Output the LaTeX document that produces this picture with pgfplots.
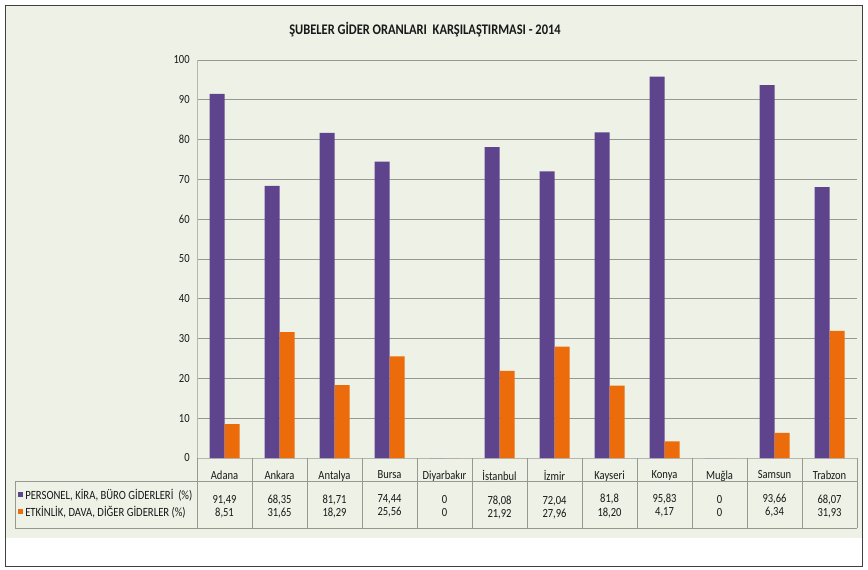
\documentclass[border=0pt]{standalone}
\usepackage{pgfplots}
\pgfplotsset{compat=1.18}
\usepackage{fontspec}
\setmainfont[FakeStretch=0.85]{Carlito}

\definecolor{bgc}{RGB}{238,241,230}
\definecolor{perscol}{RGB}{94,68,140}
\definecolor{etkcol}{RGB}{236,108,12}
\definecolor{gridc}{RGB}{150,152,146}

\begin{document}
\begin{tikzpicture}[x=0.75pt,y=-0.75pt]
% frame and chart background (pixel units of the 868x570 reference)
\fill[white] (0,0) rectangle (868,570);
\fill[bgc] (5,5) rectangle (862,538);
\draw[black!75, line width=0.7pt] (5,5) rectangle (862,566);

\begin{axis}[
    at={(147.75pt,-343.5pt)}, anchor=south west,
    scale only axis,
    width=495pt, height=298.5pt,
    xmin=-0.5, xmax=11.5,
    ymin=0, ymax=100,
    ybar=0pt, bar width=11.25pt,
    ytick={0,10,...,100},
    xtick={0,...,11},
    xticklabels={
        {Adana\\[6.8pt]91,49\\[-1.2pt]8,51},
        {Ankara\\[6.8pt]68,35\\[-1.2pt]31,65},
        {Antalya\\[6.8pt]81,71\\[-1.2pt]18,29},
        {Bursa\\[6.8pt]74,44\\[-1.2pt]25,56},
        {Diyarbakır\\[6.8pt]0\\[-1.2pt]0},
        {İstanbul\\[6.8pt]78,08\\[-1.2pt]21,92},
        {İzmir\\[6.8pt]72,04\\[-1.2pt]27,96},
        {Kayseri\\[6.8pt]81,8\\[-1.2pt]18,20},
        {Konya\\[6.8pt]95,83\\[-1.2pt]4,17},
        {Muğla\\[6.8pt]0\\[-1.2pt]0},
        {Samsun\\[6.8pt]93,66\\[-1.2pt]6,34},
        {Trabzon\\[6.8pt]68,07\\[-1.2pt]31,93}},
    axis x line=bottom, axis y line=left,
    axis line style={-, gridc!70},
    major tick length=0pt,
    ymajorgrids, grid style={gridc, line width=0.6pt},
    tick label style={font=\fontsize{9.3}{11}\selectfont, text=black!90},
    /pgf/number format/assume math mode=true,
    y tick label style={xshift=-2pt},
    x tick label style={align=center, anchor=north, yshift=-6pt},
    clip=false,
]
\addplot[fill=perscol, draw=none] coordinates {
    (0,91.49) (1,68.35) (2,81.71) (3,74.44) (4,0) (5,78.08)
    (6,72.04) (7,81.8) (8,95.83) (9,0) (10,93.66) (11,68.07)};
\addplot[fill=etkcol, draw=none] coordinates {
    (0,8.51) (1,31.65) (2,18.29) (3,25.56) (4,0) (5,21.92)
    (6,27.96) (7,18.20) (8,4.17) (9,0) (10,6.34) (11,31.93)};
\end{axis}

% title
\node[font=\bfseries\fontsize{11}{13}\selectfont, text=black!90] at (425,30)
    {ŞUBELER GİDER ORANLARI\ \ KARŞILAŞTIRMASI - 2014};

% data table lines
\draw[gridc] (15,481) -- (857,481);
\draw[gridc] (15,528) -- (857,528);
\draw[gridc] (15,481) -- (15,528);
\foreach \k in {0,...,12} {
    \draw[gridc] ({197+55*\k},458) -- ({197+55*\k},528);
}

% legend keys
\fill[perscol] (18,492) rectangle (23,497);
\node[anchor=west, inner sep=0pt, font=\fontsize{9.4}{11}\selectfont, text=black!90]
    at (25,495) {PERSONEL, KİRA, BÜRO GİDERLERİ\ \ (\%)};
\fill[etkcol] (18,509) rectangle (23,514);
\node[anchor=west, inner sep=0pt, font=\fontsize{9.4}{11}\selectfont, text=black!90]
    at (25,512) {ETKİNLİK, DAVA, DİĞER GİDERLER (\%)};
\end{tikzpicture}
\end{document}
